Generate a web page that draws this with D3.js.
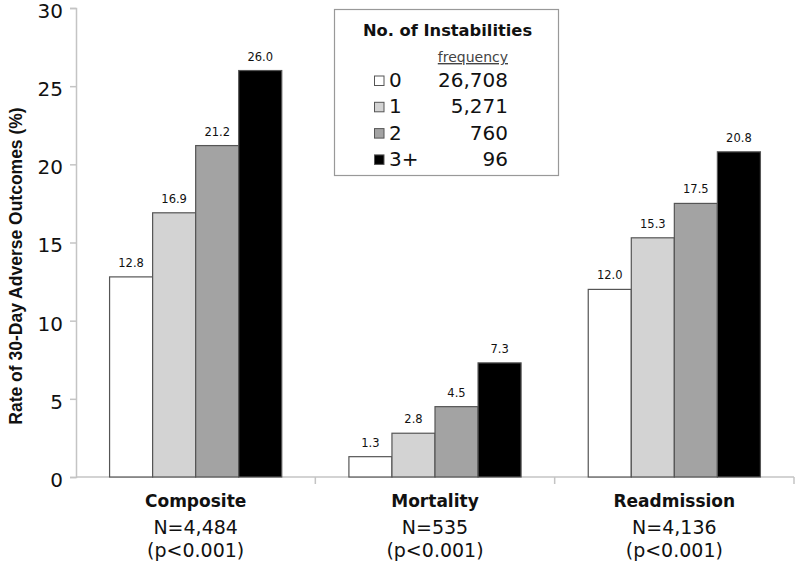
<!DOCTYPE html>
<html><head><meta charset="utf-8">
<script src="https://cdn.jsdelivr.net/npm/d3@7"></script>
<style>body{margin:0;background:#fff}svg{display:block}</style>
</head><body>
<svg id="c" width="797" height="565"></svg>
<script>
const categories = ["Composite","Mortality","Readmission"];
const categoryN = ["N=4,484","N=535","N=4,136"];
const categoryP = ["(p<0.001)","(p<0.001)","(p<0.001)"];
const seriesNames = ["0","1","2","3+"];
const seriesFreq = ["26,708","5,271","760","96"];
const seriesColors = ["#ffffff","#d3d3d3","#a3a3a3","#000000"];
const values = [
  [12.8,16.9,21.2,26.0],
  [1.3,2.8,4.5,7.3],
  [12.0,15.3,17.5,20.8]
];
const yTicks = [0,5,10,15,20,25,30];

(function(){
const svg = d3.select("#c");
const mLeft = 76, mRight = 794, mTop = 8, mBottom = 477;
const dv = "'DejaVu Sans', Verdana, sans-serif";
const lib = "'Liberation Sans', Arial, sans-serif";

const x0 = d3.scaleBand().domain(categories).range([mLeft, mRight]).paddingInner(0).paddingOuter(0);
const x1 = d3.scaleBand().domain(seriesNames).range([0, x0.bandwidth()]).paddingInner(0).paddingOuter(0.78);
const y = d3.scaleLinear().domain([0,30]).range([mBottom, mTop]);

// y axis
const ya = svg.append("g").attr("transform",`translate(${mLeft},0)`)
  .call(d3.axisLeft(y).tickValues(yTicks).tickSize(6).tickPadding(7).tickFormat(d3.format("d")));
ya.select(".domain").attr("stroke","#c4c4c4").attr("stroke-width",1.5);
ya.selectAll(".tick line").attr("stroke","#c4c4c4").attr("stroke-width",1.5);
ya.selectAll(".tick text").attr("font-family",dv).attr("font-size",20).attr("fill","#111").attr("dy","0.47em");

// x axis
const xa = svg.append("g").attr("transform",`translate(0,${mBottom})`);
xa.append("line").attr("x1",mLeft).attr("x2",mRight).attr("y1",0).attr("y2",0).attr("stroke","#c4c4c4").attr("stroke-width",1.5);
const seps = categories.map(c => x0(c) + x0.bandwidth());
xa.selectAll("line.sep").data(seps).enter().append("line").attr("class","sep")
  .attr("x1",d=>d).attr("x2",d=>d).attr("y1",0).attr("y2",7).attr("stroke","#c4c4c4").attr("stroke-width",1.5);

// bars
const groups = svg.selectAll("g.grp").data(categories).enter().append("g")
  .attr("transform",c=>`translate(${x0(c)},0)`);
groups.each(function(c,i){
  const g = d3.select(this);
  values[i].forEach((v,j)=>{
    g.append("rect").attr("x",x1(seriesNames[j])).attr("width",x1.bandwidth())
      .attr("y",y(v)).attr("height",y(0)-y(v))
      .attr("fill",seriesColors[j]).attr("stroke","#555").attr("stroke-width",1.2);
    g.append("text").attr("x",x1(seriesNames[j])+x1.bandwidth()/2).attr("y",y(v)-10)
      .attr("text-anchor","middle").attr("font-family",dv).attr("font-size",11.5).attr("fill","#111")
      .text(v.toFixed(1));
  });
  const cx = x0.bandwidth()/2;
  g.append("text").attr("x",cx).attr("y",507).attr("text-anchor","middle")
    .attr("font-family",dv).attr("font-weight","bold").attr("font-size",17).attr("fill","#111").text(c);
  g.append("text").attr("x",cx).attr("y",534).attr("text-anchor","middle")
    .attr("font-family",dv).attr("font-size",19).attr("fill","#111").text(categoryN[i]);
  g.append("text").attr("x",cx).attr("y",557).attr("text-anchor","middle")
    .attr("font-family",dv).attr("font-size",19).attr("fill","#111").text(categoryP[i]);
});

// y title
svg.append("text").attr("transform",`translate(22,266) rotate(-90)`)
  .attr("text-anchor","middle").attr("font-family",lib).attr("font-weight","bold")
  .attr("font-size",17.5).attr("fill","#111").text("Rate of 30-Day Adverse Outcomes (%)");

// legend
const lg = svg.append("g");
lg.append("rect").attr("x",334.5).attr("y",9.5).attr("width",224).attr("height",166)
  .attr("fill","#fff").attr("stroke","#999").attr("stroke-width",1.2);
lg.append("text").attr("x",447.5).attr("y",36).attr("text-anchor","middle")
  .attr("font-family",dv).attr("font-weight","bold").attr("font-size",16.3).attr("fill","#111").text("No. of Instabilities");
lg.append("text").attr("x",508).attr("y",62).attr("text-anchor","end")
  .attr("font-family",dv).attr("font-size",14).attr("fill","#444")
  .attr("text-decoration","underline").text("frequency");
seriesNames.forEach((s,j)=>{
  const base = 87 + j*26.3;
  lg.append("rect").attr("x",374.5).attr("y",base-11).attr("width",9.5).attr("height",9.5)
    .attr("fill",seriesColors[j]).attr("stroke","#555");
  lg.append("text").attr("x",389).attr("y",base).attr("font-family",dv).attr("font-size",20)
    .attr("fill","#111").text(s);
  lg.append("text").attr("x",508).attr("y",base).attr("text-anchor","end").attr("font-family",dv)
    .attr("font-size",20).attr("fill","#111").text(seriesFreq[j]);
});
})();
</script>
</body></html>
